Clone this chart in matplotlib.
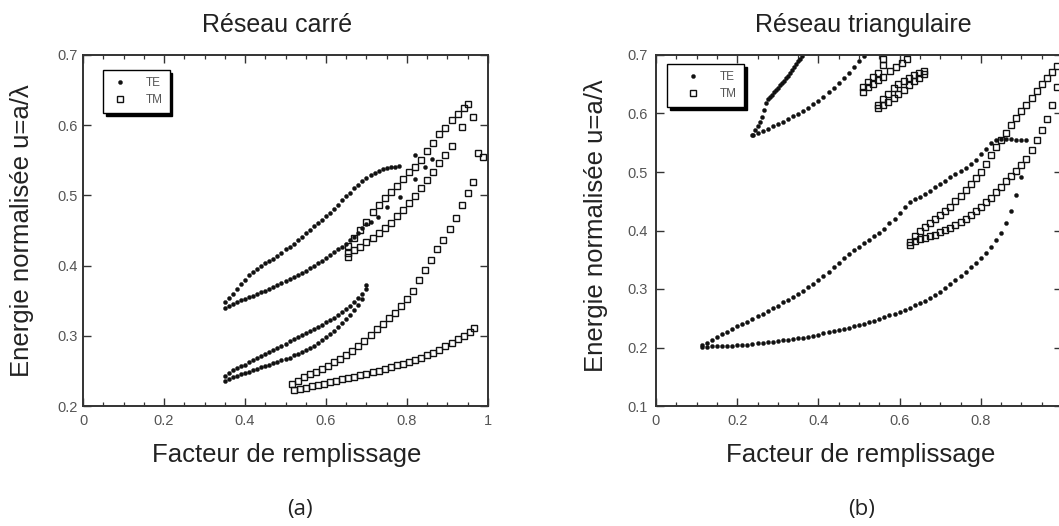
import matplotlib
matplotlib.use("Agg")
import matplotlib.pyplot as plt
from matplotlib.ticker import MultipleLocator, FuncFormatter

plt.rcParams['font.family'] = ['Liberation Sans', 'DejaVu Sans']

# ---------------- Panel (a) : Réseau carré ----------------
a_te_top_x = [0.35, 0.36, 0.37, 0.38, 0.39, 0.40, 0.41, 0.42, 0.43, 0.44, 0.45, 0.46, 0.47, 0.48, 0.49,
              0.50, 0.51, 0.52, 0.53, 0.54, 0.55, 0.56, 0.57, 0.58, 0.59, 0.60, 0.61, 0.62, 0.63, 0.64,
              0.65, 0.66, 0.67, 0.68, 0.69, 0.70, 0.71, 0.72, 0.73, 0.74, 0.75, 0.76, 0.77, 0.78]
a_te_top_y = [0.348, 0.354, 0.360, 0.367, 0.374, 0.380, 0.386, 0.391, 0.395, 0.400, 0.404, 0.407, 0.410, 0.413, 0.418,
              0.423, 0.427, 0.431, 0.436, 0.441, 0.446, 0.451, 0.456, 0.460, 0.465, 0.470, 0.475, 0.481, 0.487, 0.493,
              0.499, 0.504, 0.510, 0.515, 0.521, 0.525, 0.529, 0.532, 0.535, 0.537, 0.539, 0.540, 0.541, 0.542]

a_te_low_x = [0.35, 0.36, 0.37, 0.38, 0.39, 0.40, 0.41, 0.42, 0.43, 0.44, 0.45, 0.46, 0.47, 0.48, 0.49,
              0.50, 0.51, 0.52, 0.53, 0.54, 0.55, 0.56, 0.57, 0.58, 0.59, 0.60, 0.61, 0.62, 0.63, 0.64,
              0.65, 0.66, 0.67, 0.68, 0.69, 0.70, 0.71, 0.729, 0.75, 0.783, 0.82, 0.844, 0.861, 0.82]
a_te_low_y = [0.340, 0.343, 0.346, 0.348, 0.351, 0.353, 0.355, 0.357, 0.359, 0.362, 0.364, 0.367, 0.369, 0.372, 0.375,
              0.378, 0.381, 0.384, 0.387, 0.390, 0.393, 0.396, 0.399, 0.403, 0.407, 0.411, 0.415, 0.419, 0.423, 0.427,
              0.431, 0.436, 0.441, 0.447, 0.453, 0.459, 0.462, 0.469, 0.484, 0.498, 0.524, 0.541, 0.552, 0.558]

a_te2_top_x = [0.35, 0.36, 0.37, 0.38, 0.39, 0.40, 0.41, 0.42, 0.43, 0.44, 0.45, 0.46, 0.47, 0.48, 0.49,
               0.50, 0.51, 0.52, 0.53, 0.54, 0.55, 0.56, 0.57, 0.58, 0.59, 0.60, 0.61, 0.62, 0.63, 0.64,
               0.65, 0.66, 0.67, 0.68, 0.69, 0.70, 0.70]
a_te2_top_y = [0.243, 0.247, 0.251, 0.254, 0.257, 0.259, 0.262, 0.265, 0.268, 0.271, 0.274, 0.277, 0.280, 0.283, 0.286,
               0.289, 0.292, 0.295, 0.298, 0.301, 0.304, 0.307, 0.310, 0.313, 0.316, 0.319, 0.323, 0.326, 0.330, 0.334,
               0.338, 0.343, 0.348, 0.354, 0.360, 0.366, 0.373]

a_te2_low_x = [0.35, 0.36, 0.37, 0.38, 0.39, 0.40, 0.41, 0.42, 0.43, 0.44, 0.45, 0.46, 0.47, 0.48, 0.49,
               0.50, 0.51, 0.52, 0.53, 0.54, 0.55, 0.56, 0.57, 0.58, 0.59, 0.60, 0.61, 0.62, 0.63, 0.64,
               0.65, 0.66, 0.67, 0.68, 0.69]
a_te2_low_y = [0.236, 0.239, 0.241, 0.243, 0.245, 0.247, 0.249, 0.251, 0.253, 0.255, 0.257, 0.259, 0.261, 0.263, 0.265,
               0.267, 0.269, 0.272, 0.274, 0.277, 0.280, 0.283, 0.286, 0.290, 0.294, 0.298, 0.302, 0.307, 0.312, 0.318,
               0.324, 0.330, 0.337, 0.344, 0.352]

a_tm_bot_x = [0.52, 0.535, 0.55, 0.565, 0.58, 0.595, 0.61, 0.625, 0.64, 0.655, 0.67, 0.685, 0.70, 0.715, 0.73,
              0.745, 0.76, 0.775, 0.79, 0.805, 0.82, 0.835, 0.85, 0.865, 0.88, 0.895, 0.91, 0.925, 0.94, 0.955, 0.965]
a_tm_bot_y = [0.223, 0.224, 0.226, 0.228, 0.230, 0.232, 0.234, 0.236, 0.238, 0.240, 0.242, 0.244, 0.246, 0.248, 0.250,
              0.252, 0.255, 0.258, 0.260, 0.263, 0.266, 0.269, 0.273, 0.276, 0.280, 0.285, 0.290, 0.295, 0.300, 0.306, 0.311]

a_tm_up_x = [0.515, 0.53, 0.545, 0.56, 0.575, 0.59, 0.605, 0.62, 0.635, 0.65, 0.665, 0.68, 0.695, 0.71, 0.725,
             0.74, 0.755, 0.77, 0.785, 0.80, 0.815, 0.83, 0.845, 0.86, 0.875, 0.89, 0.905, 0.92, 0.935, 0.95, 0.963]
a_tm_up_y = [0.231, 0.236, 0.241, 0.246, 0.249, 0.252, 0.257, 0.262, 0.267, 0.272, 0.278, 0.285, 0.293, 0.301, 0.309,
             0.317, 0.325, 0.333, 0.342, 0.352, 0.364, 0.379, 0.394, 0.408, 0.423, 0.437, 0.452, 0.468, 0.486, 0.503, 0.519]

a_tm_a_x = [0.655, 0.67, 0.685, 0.70, 0.715, 0.73, 0.745, 0.76, 0.775, 0.79, 0.805, 0.82, 0.835, 0.85, 0.865,
            0.88, 0.895, 0.91, 0.925, 0.94, 0.951]
a_tm_a_y = [0.428, 0.439, 0.451, 0.462, 0.476, 0.486, 0.496, 0.505, 0.514, 0.524, 0.533, 0.541, 0.551, 0.563, 0.575,
            0.587, 0.596, 0.607, 0.616, 0.624, 0.630]

a_tm_c_x = [0.655, 0.655, 0.67, 0.685, 0.70, 0.715, 0.73, 0.745, 0.76, 0.775, 0.79, 0.805, 0.82, 0.835, 0.85,
            0.865, 0.88, 0.895, 0.91, 0.937, 0.963]
a_tm_c_y = [0.412, 0.418, 0.422, 0.427, 0.433, 0.439, 0.446, 0.453, 0.461, 0.470, 0.479, 0.489, 0.499, 0.510, 0.522,
            0.534, 0.546, 0.558, 0.571, 0.598, 0.611]

a_tm_extra_x = [0.975, 0.988]
a_tm_extra_y = [0.561, 0.555]

# ---------------- Panel (b) : Réseau triangulaire ----------------
b_grid_x = [0.1125, 0.125, 0.1375, 0.15, 0.1625, 0.175, 0.1875, 0.2, 0.2125, 0.225, 0.2375, 0.25, 0.2625,
            0.275, 0.2875, 0.3, 0.3125, 0.325, 0.3375, 0.35, 0.3625, 0.375, 0.3875, 0.4, 0.4125, 0.425,
            0.4375, 0.45, 0.4625, 0.475, 0.4875, 0.5, 0.5125, 0.525, 0.5375, 0.55, 0.5625, 0.575, 0.5875,
            0.6, 0.6125, 0.625, 0.6375, 0.65, 0.6625, 0.675, 0.6875, 0.7, 0.7125, 0.725, 0.7375, 0.75,
            0.7625, 0.775, 0.7875, 0.8, 0.8125, 0.825, 0.8375, 0.85, 0.8625, 0.875, 0.8875, 0.9, 0.9125]
b_te_upper_y = [0.204, 0.208, 0.213, 0.218, 0.223, 0.227, 0.231, 0.236, 0.240, 0.244,
                0.249, 0.254, 0.258, 0.262, 0.267, 0.271, 0.277, 0.282, 0.287, 0.292,
                0.297, 0.303, 0.309, 0.315, 0.322, 0.329, 0.337, 0.345, 0.353, 0.360,
                0.366, 0.372, 0.378, 0.384, 0.390, 0.396, 0.403, 0.412, 0.420, 0.430,
                0.440, 0.448, 0.453, 0.458, 0.463, 0.468, 0.474, 0.480, 0.485, 0.491,
                0.496, 0.502, 0.507, 0.514, 0.521, 0.530, 0.540, 0.549, 0.554, 0.556,
                0.557, 0.556, 0.555, 0.555, 0.555]
b_te_lower_y = [0.201, 0.201, 0.202, 0.202, 0.202, 0.203, 0.203, 0.204, 0.204, 0.205,
                0.206, 0.207, 0.208, 0.209, 0.210, 0.211, 0.212, 0.213, 0.214, 0.216,
                0.217, 0.218, 0.220, 0.222, 0.224, 0.226, 0.228, 0.230, 0.232, 0.234,
                0.236, 0.238, 0.240, 0.243, 0.246, 0.249, 0.252, 0.255, 0.258, 0.261,
                0.264, 0.268, 0.272, 0.276, 0.280, 0.285, 0.290, 0.295, 0.301, 0.308,
                0.315, 0.322, 0.329, 0.337, 0.345, 0.353, 0.362, 0.372, 0.383, 0.396,
                0.412, 0.433, 0.460, 0.492]

b_te_steep_x = [0.240, 0.245, 0.250, 0.255, 0.260, 0.265, 0.270, 0.275, 0.280, 0.285, 0.290, 0.295, 0.300,
                0.305, 0.310, 0.315, 0.320, 0.325, 0.330, 0.335, 0.340, 0.345, 0.350, 0.355, 0.360]
b_te_steep_y = [0.564, 0.571, 0.578, 0.585, 0.594, 0.606, 0.618, 0.624, 0.628, 0.632, 0.636, 0.640, 0.644,
                0.648, 0.652, 0.656, 0.660, 0.664, 0.669, 0.674, 0.679, 0.684, 0.689, 0.694, 0.698]

b_te_arm_x = [0.2375, 0.25, 0.2625, 0.275, 0.2875, 0.3, 0.3125, 0.325, 0.3375, 0.35, 0.3625, 0.375,
              0.3875, 0.4, 0.4125, 0.425, 0.4375, 0.45, 0.4625, 0.475, 0.4875, 0.5, 0.5125]
b_te_arm_y = [0.563, 0.567, 0.570, 0.574, 0.578, 0.582, 0.586, 0.591, 0.595, 0.600, 0.605, 0.610,
              0.616, 0.622, 0.629, 0.636, 0.644, 0.652, 0.660, 0.669, 0.679, 0.689, 0.698]

b_tm_l1a_x = [0.510, 0.523, 0.535, 0.547, 0.560, 0.560]
b_tm_l1a_y = [0.646, 0.654, 0.663, 0.669, 0.683, 0.694]
b_tm_l1b_x = [0.510, 0.523, 0.535, 0.547, 0.560, 0.576, 0.592, 0.605, 0.617]
b_tm_l1b_y = [0.637, 0.646, 0.651, 0.657, 0.663, 0.672, 0.680, 0.686, 0.694]

b_tm_l2_x = [0.547, 0.560, 0.572, 0.585, 0.597, 0.610, 0.622, 0.635, 0.647, 0.660]
b_tm_l2a_y = [0.615, 0.625, 0.634, 0.643, 0.650, 0.656, 0.661, 0.665, 0.669, 0.672]
b_tm_l2b_y = [0.609, 0.614, 0.620, 0.627, 0.634, 0.641, 0.648, 0.655, 0.661, 0.667]

b_tm_x = [0.625, 0.6375, 0.65, 0.6625, 0.675, 0.6875, 0.7, 0.7125, 0.725, 0.7375, 0.75, 0.7625, 0.775,
          0.7875, 0.8, 0.8125, 0.825, 0.8375, 0.85, 0.8625, 0.875, 0.8875, 0.9, 0.9125, 0.925, 0.9375,
          0.95, 0.9625, 0.975, 0.9875]
b_tm_up_y = [0.380, 0.391, 0.399, 0.406, 0.413, 0.420, 0.426, 0.433, 0.441, 0.450, 0.459, 0.469, 0.479,
             0.489, 0.500, 0.514, 0.529, 0.543, 0.555, 0.567, 0.581, 0.593, 0.604, 0.615, 0.626, 0.638,
             0.650, 0.661, 0.671, 0.681]
b_tm_dn_y = [0.376, 0.382, 0.385, 0.387, 0.390, 0.393, 0.397, 0.401, 0.405, 0.410, 0.415, 0.420, 0.426,
             0.433, 0.440, 0.448, 0.456, 0.465, 0.474, 0.484, 0.494, 0.502, 0.512, 0.523, 0.538, 0.555,
             0.572, 0.590, 0.615, 0.645]

series_labels = ["TE", "TM"]
x_title = "Facteur de remplissage"
y_title = "Energie normalisée u=a/λ"
panel_titles = ["Réseau carré", "Réseau triangulaire"]
panel_tags = ["(a)", "(b)"]

# ---------------- drawing ----------------
W, H = 1059, 526
fig = plt.figure(figsize=(W / 100, H / 100), dpi=100)
fig.patch.set_facecolor("white")

axa = fig.add_axes([83 / W, 120 / H, 405 / W, 351 / H])
axb = fig.add_axes([656 / W, 120 / H, 406 / W, 351 / H])

INK = "#111111"
TE_KW = dict(marker="o", ls="none", ms=2.9, color=INK, mec=INK, mew=0.3)
TM_KW = dict(marker="s", ls="none", ms=3.9, mfc="none", mec=INK, mew=1.0)


def fmt(v, p):
    return "%g" % round(v, 3)


def fmt_cut(v, p):
    # the reference image is cropped just before the last x label
    return "" if v > 0.95 else "%g" % round(v, 3)


def style(ax, ylo, ypad, xfmt):
    ax.set_xlim(0, 1)
    ax.set_ylim(ylo, 0.7)
    ax.xaxis.set_major_locator(MultipleLocator(0.2))
    ax.xaxis.set_minor_locator(MultipleLocator(0.05))
    ax.yaxis.set_major_locator(MultipleLocator(0.1))
    ax.xaxis.set_major_formatter(FuncFormatter(xfmt))
    ax.yaxis.set_major_formatter(FuncFormatter(fmt))
    ax.tick_params(which="both", direction="in", top=True, right=True, color="#333333")
    ax.tick_params(which="major", length=5.5, width=1.0, labelsize=10.5, labelcolor="#555555")
    ax.tick_params(which="minor", length=3, width=0.9)
    ax.tick_params(axis="x", pad=5.5)
    ax.tick_params(axis="y", pad=ypad)
    for s in ax.spines.values():
        s.set_linewidth(1.4)
        s.set_color("#333333")


# panel (a)
hte = None
for xs, ys in [(a_te_top_x, a_te_top_y), (a_te_low_x, a_te_low_y),
               (a_te2_top_x, a_te2_top_y), (a_te2_low_x, a_te2_low_y)]:
    l, = axa.plot(xs, ys, **TE_KW)
    hte = hte or l
htm = None
for xs, ys in [(a_tm_bot_x, a_tm_bot_y), (a_tm_up_x, a_tm_up_y), (a_tm_a_x, a_tm_a_y),
               (a_tm_c_x, a_tm_c_y), (a_tm_extra_x, a_tm_extra_y)]:
    l, = axa.plot(xs, ys, **TM_KW)
    htm = htm or l
style(axa, 0.2, 4.0, fmt)

# panel (b)
hte_b = None
for xs, ys in [(b_grid_x, b_te_upper_y), (b_grid_x[:len(b_te_lower_y)], b_te_lower_y),
               (b_te_steep_x, b_te_steep_y), (b_te_arm_x, b_te_arm_y)]:
    l, = axb.plot(xs, ys, **TE_KW)
    hte_b = hte_b or l
htm_b = None
for xs, ys in [(b_tm_l1a_x, b_tm_l1a_y), (b_tm_l1b_x, b_tm_l1b_y), (b_tm_l2_x, b_tm_l2a_y),
               (b_tm_l2_x, b_tm_l2b_y), (b_tm_x, b_tm_up_y), (b_tm_x, b_tm_dn_y)]:
    l, = axb.plot(xs, ys, **TM_KW)
    htm_b = htm_b or l
style(axb, 0.1, 6.0, fmt_cut)


def add_legend(ax, handles, anchor, hl, htp):
    leg = ax.legend(handles, series_labels, loc="upper left", bbox_to_anchor=anchor,
                    frameon=True, fancybox=False, shadow={"color": "black", "alpha": 1.0},
                    edgecolor="black", framealpha=1, fontsize=8.5, labelcolor="#555555",
                    borderpad=0.6, handlelength=hl, handletextpad=htp, labelspacing=0.45,
                    borderaxespad=0)
    leg.get_frame().set_linewidth(1.0)
    return leg


add_legend(axa, [hte, htm], (20 / 405, 336 / 351), 1.7, 1.3)
add_legend(axb, [hte_b, htm_b], (11 / 406, 342 / 351), 3.2, 0.7)

# texts
for cx, title in zip([277, 863], panel_titles):
    fig.text(cx / W, 1 - 32 / H, title, ha="center", va="baseline", fontsize=18, color="#222222")
for cx in [287, 861]:
    fig.text(cx / W, 1 - 462 / H, x_title, ha="center", va="baseline", fontsize=18.5, color="#222222")
for cx, cy in [(22, 231), (596, 226)]:
    fig.text(cx / W, 1 - cy / H, y_title, ha="center", va="center", rotation=90,
             fontsize=18.5, color="#222222")
for cx, tag in zip([300, 862], panel_tags):
    fig.text(cx / W, 1 - 510 / H, tag, ha="center", va="center", fontsize=16,
             family=["Open Sans", "DejaVu Sans"], color="#222222")

fig.savefig("out.png", dpi=100, facecolor="white")
